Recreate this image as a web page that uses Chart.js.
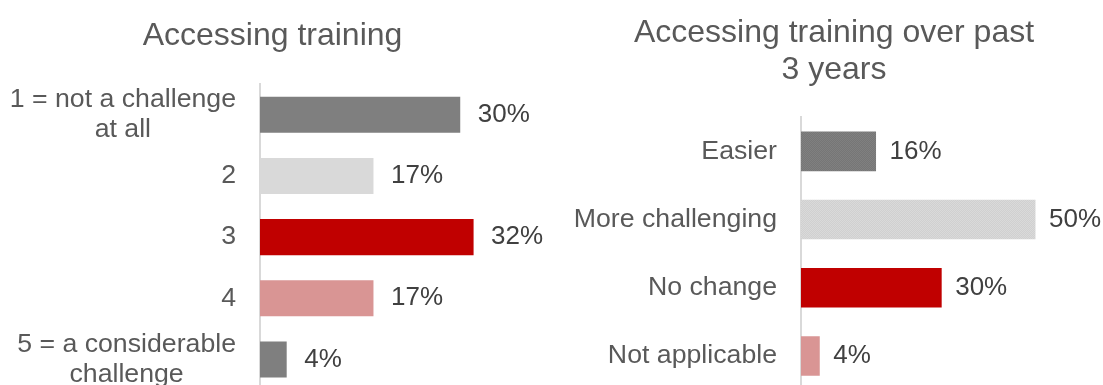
<!DOCTYPE html>
<html>
<head>
<meta charset="utf-8">
<script src="https://cdn.jsdelivr.net/npm/chart.js@4.4.1/dist/chart.umd.min.js"></script>
<style>
  html, body { margin: 0; padding: 0; background: #fff; overflow: hidden; }
  body { width: 1103px; height: 385px; position: relative; }
  canvas { position: absolute; top: 0; }
  #chartLeft { left: 0; }
  #chartRight { left: 565px; }
</style>
</head>
<body>
<canvas id="chartLeft" width="545" height="390"></canvas>
<canvas id="chartRight" width="538" height="390"></canvas>
<script>
// how hard it is to access training (1-5 scale)
var challenge_labels = [['1 = not a challenge', 'at all'], '2', '3', '4', ['5 = a considerable', 'challenge']];
var challenge_values = [30, 17, 32, 17, 4];

// change over the past 3 years
var change_labels = ['Easier', 'More challenging', 'No change', 'Not applicable'];
var change_values = [16, 50, 30, 4];

var FONT = '"Liberation Sans", Arial, sans-serif';
var GREY = '#7f7f7f', LIGHT = '#d9d9d9', RED = '#c00000', PINK = '#d99594';

// small checker fill, gives the grainy look of the shaded bars
function grain(a, b) {
    var c = document.createElement('canvas');
    c.width = 2; c.height = 2;
    var g = c.getContext('2d');
    g.fillStyle = a; g.fillRect(0, 0, 2, 2);
    g.fillStyle = b; g.fillRect(0, 0, 1, 1); g.fillRect(1, 1, 1, 1);
    return g.createPattern(c, 'repeat');
}

// "NN%" to the right of each bar
var valueLabels = {
    id: 'valueLabels',
    afterDatasetsDraw: function(chart, args, opts) {
        var ctx = chart.ctx;
        var values = chart.data.datasets[0].data;
        ctx.save();
        ctx.font = '26px ' + FONT;
        ctx.fillStyle = '#404040';
        ctx.textAlign = 'left';
        ctx.textBaseline = 'middle';
        chart.getDatasetMeta(0).data.forEach(function(bar, i) {
            ctx.fillText(values[i] + '%', bar.x + opts.offset, bar.y);
        });
        ctx.restore();
    }
};

// category names: each block right-aligned to the axis, lines centred inside the block
var categoryLabels = {
    id: 'categoryLabels',
    afterDraw: function(chart, args, opts) {
        var ctx = chart.ctx;
        var yScale = chart.scales.y;
        var lineH = 30.4;
        ctx.save();
        ctx.font = '26.7px ' + FONT;
        ctx.fillStyle = '#595959';
        ctx.textAlign = 'center';
        ctx.textBaseline = 'middle';
        chart.data.labels.forEach(function(label, i) {
            var lines = Array.isArray(label) ? label : [label];
            var w = Math.max.apply(null, lines.map(function(l) { return ctx.measureText(l).width; }));
            var cx = yScale.right - opts.gap - w / 2;
            var cy = yScale.getPixelForTick(i);
            lines.forEach(function(l, j) {
                ctx.fillText(l, cx, cy + (j - (lines.length - 1) / 2) * lineH);
            });
        });
        ctx.restore();
    }
};

function makeChart(id, labels, values, colors, opt) {
    return new Chart(document.getElementById(id), {
        type: 'bar',
        data: {
            labels: labels,
            datasets: [{
                data: values,
                backgroundColor: colors,
                borderWidth: 0,
                barPercentage: opt.barPct,
                categoryPercentage: 1
            }]
        },
        options: {
            indexAxis: 'y',
            responsive: false,
            animation: false,
            layout: { padding: 0 },
            scales: {
                x: { display: false, min: 0, max: opt.xMax },
                y: {
                    grid: { display: false },
                    border: { display: true, color: '#d9d9d9', width: 2 },
                    ticks: { display: false },
                    afterFit: function(scale) {
                        scale.width = opt.axisWidth;
                        scale.paddingTop = 0;
                        scale.paddingBottom = 0;
                    }
                }
            },
            plugins: {
                legend: { display: false },
                tooltip: { enabled: false },
                title: {
                    display: true,
                    text: opt.title,
                    color: '#595959',
                    font: { family: FONT, size: 32, weight: 'normal', lineHeight: 1.15 },
                    padding: { top: opt.titleTop, bottom: 29.2 }
                },
                valueLabels: { offset: opt.labelOffset },
                categoryLabels: { gap: 24 }
            }
        },
        plugins: [valueLabels, categoryLabels]
    });
}

makeChart('chartLeft', challenge_labels, challenge_values, [GREY, LIGHT, RED, PINK, GREY], {
    title: 'Accessing training',
    titleTop: 18.2,
    axisWidth: 260,
    xMax: 42.7,
    barPct: 0.59,
    labelOffset: 17.5
});

makeChart('chartRight', change_labels, change_values,
    [grain('#808080', '#767676'), grain('#dadada', '#d0d0d0'), RED, PINK], {
    title: ['Accessing training over past', '3 years'],
    titleTop: 14.5,
    axisWidth: 236,
    xMax: 64.4,
    barPct: 0.58,
    labelOffset: 13.5
});
</script>
</body>
</html>
